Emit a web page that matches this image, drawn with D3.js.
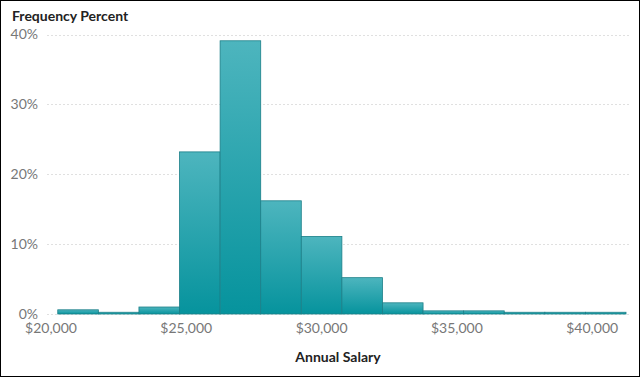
<!DOCTYPE html>
<html>
<head>
<meta charset="utf-8">
<script src="https://cdn.jsdelivr.net/npm/d3@7"></script>
<style>
  body { margin: 0; background: #fff; }
  svg { display: block; font-family: Lato, "Open Sans", sans-serif; }
</style>
</head>
<body>
<svg width="640" height="377"></svg>
<script>
// bin edges (annual salary) and frequency percent per bin
var binStarts = [20250, 21750, 23250, 24750, 26250, 27750, 29250, 30750, 32250, 33750, 35250, 36750, 38250, 39750];
var binWidth = 1500;
var percents = [0.6, 0.25, 1.0, 23.2, 39.1, 16.2, 11.1, 5.2, 1.6, 0.45, 0.45, 0.25, 0.25, 0.25];
var xTicks = [20000, 25000, 30000, 35000, 40000];
var yTicks = [0, 10, 20, 30, 40];

var svg = d3.select("svg");

// page border
svg.append("rect")
    .attr("x", 0.5).attr("y", 0.5)
    .attr("width", 639).attr("height", 376)
    .attr("fill", "none").attr("stroke", "#000");

var x = d3.scaleLinear().domain([20000, 41250]).range([51, 626]);
var y = d3.scaleLinear().domain([0, 40]).range([314, 34.5]);

var defs = svg.append("defs");
var grad = defs.append("linearGradient")
    .attr("id", "barfill")
    .attr("x1", 0).attr("y1", 0).attr("x2", 0).attr("y2", 1);
grad.append("stop").attr("offset", "0%").attr("stop-color", "#4db5be");
grad.append("stop").attr("offset", "100%").attr("stop-color", "#06939d");

// gridlines
svg.append("g").selectAll("line")
    .data(yTicks)
    .enter().append("line")
    .attr("x1", 47).attr("x2", 631)
    .attr("y1", function(d) { return Math.round(y(d)) + 0.5; })
    .attr("y2", function(d) { return Math.round(y(d)) + 0.5; })
    .attr("stroke", "#e0e0e0")
    .attr("stroke-dasharray", "2,2");

// bars
svg.append("g").selectAll("rect")
    .data(binStarts)
    .enter().append("rect")
    .attr("x", function(d) { return x(d); })
    .attr("width", function(d) { return x(d + binWidth) - x(d); })
    .attr("y", function(d, i) { return y(percents[i]); })
    .attr("height", function(d, i) { return y(0) - y(percents[i]); })
    .attr("fill", "url(#barfill)")
    .attr("stroke", "#1b7f88")
    .attr("stroke-width", 0.8);

// y tick labels
svg.append("g").selectAll("text")
    .data(yTicks)
    .enter().append("text")
    .attr("x", 38)
    .attr("y", function(d) { return y(d); })
    .attr("dy", "0.35em")
    .attr("text-anchor", "end")
    .attr("fill", "#777")
    .style("font-size", "14px")
    .text(function(d) { return d + "%"; });

// x tick labels
svg.append("g").selectAll("text")
    .data(xTicks)
    .enter().append("text")
    .attr("x", function(d) { return x(d); })
    .attr("y", 333)
    .attr("text-anchor", "middle")
    .attr("fill", "#777")
    .style("font-size", "14px")
    .text(function(d) { return "$" + d3.format(",")(d); });

// titles
svg.append("text")
    .attr("x", 12).attr("y", 21)
    .style("font-size", "14px").style("font-weight", "bold")
    .attr("fill", "#222")
    .text("Frequency Percent");

svg.append("text")
    .attr("x", 338).attr("y", 362)
    .attr("text-anchor", "middle")
    .style("font-size", "14px").style("font-weight", "bold")
    .attr("fill", "#222")
    .text("Annual Salary");
</script>
</body>
</html>
